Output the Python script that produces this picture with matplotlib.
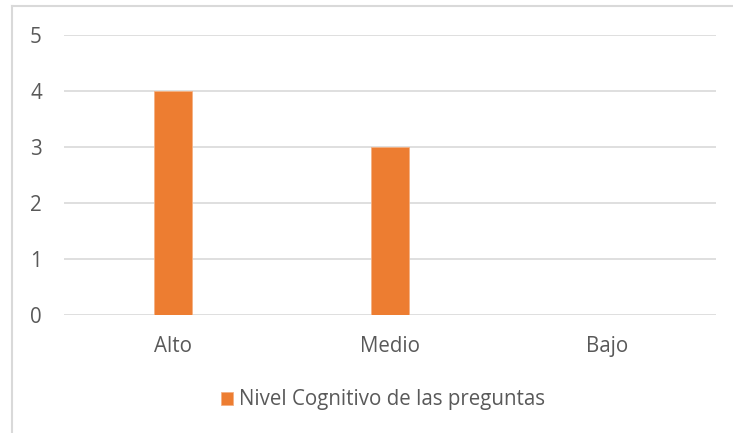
import matplotlib.pyplot as plt
from matplotlib.lines import Line2D

# datos del gráfico
categorias = ['Alto', 'Medio', 'Bajo']
valores = [4, 3, 0]
serie = 'Nivel Cognitivo de las preguntas'

plt.rcParams['font.family'] = ['Open Sans', 'DejaVu Sans']
gris = '#595959'

fig = plt.figure(figsize=(7.33, 4.33), dpi=100)
ax = fig.add_axes([64/733, 1 - 315/433, 652/733, 280/433])

x = range(len(categorias))
ax.bar(x, valores, width=0.175, color='#ED7D31', edgecolor='#F4B183',
       linewidth=0.6, label=serie, zorder=3)

ax.set_xlim(-0.5, 2.5)
ax.set_ylim(0, 5)
ax.set_yticks(range(6))
ax.set_xticks(list(x))
ax.set_xticklabels(categorias)
ax.grid(axis='y', color='#D9D9D9', linewidth=1.2, zorder=0)
for s in ax.spines.values():
    s.set_visible(False)
ax.tick_params(axis='both', length=0, labelsize=14.8, colors=gris)
ax.tick_params(axis='y', pad=16)
ax.tick_params(axis='x', pad=15)

# marco exterior (solo se ven los lados izquierdo y superior)
x0, y0 = 12/733, 1 - 6/433
fig.add_artist(Line2D([x0, x0], [0, y0], transform=fig.transFigure,
                      color='#D9D9D9', linewidth=1.5))
fig.add_artist(Line2D([x0, 1], [y0, y0], transform=fig.transFigure,
                      color='#D9D9D9', linewidth=1.5))

fig.legend(loc='center', bbox_to_anchor=(383/733, 1 - 400/433), frameon=False,
           fontsize=14.8, labelcolor=gris, handlelength=0.62, handleheight=0.62,
           handletextpad=0.3)

fig.savefig('out.png', dpi=100)
